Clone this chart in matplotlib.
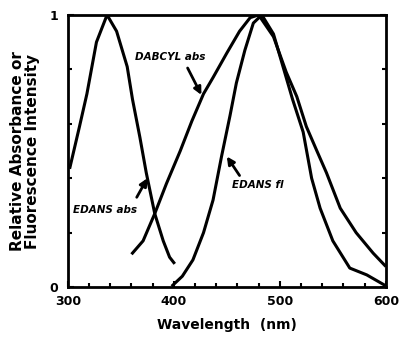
import matplotlib
matplotlib.use('Agg')
import matplotlib.pyplot as plt
from matplotlib.ticker import MultipleLocator

# EDANS absorbance
edans_abs_x = [302, 311, 318, 327, 337, 346, 356, 361, 368, 374, 382, 390, 396, 400]
edans_abs_y = [0.44, 0.59, 0.71, 0.90, 1.00, 0.94, 0.81, 0.69, 0.55, 0.42, 0.27, 0.17, 0.11, 0.09]

# DABCYL absorbance
dabcyl_x = [361, 371, 382, 393, 406, 417, 428, 437, 450, 462, 472, 480,
            494, 506, 516, 525, 535, 544, 557, 572, 588, 599]
dabcyl_y = [0.125, 0.17, 0.27, 0.38, 0.50, 0.61, 0.71, 0.77, 0.86, 0.94, 0.99, 1.00,
            0.92, 0.79, 0.70, 0.59, 0.50, 0.42, 0.29, 0.20, 0.125, 0.08]

# EDANS fluorescence
edans_fl_x = [399, 408, 418, 428, 437, 445, 453, 459, 467, 475, 483,
              494, 503, 512, 522, 530, 538, 550, 566, 582, 599]
edans_fl_y = [0.007, 0.04, 0.10, 0.20, 0.32, 0.48, 0.63, 0.75, 0.87, 0.97, 1.00,
              0.93, 0.81, 0.69, 0.57, 0.40, 0.29, 0.17, 0.07, 0.045, 0.007]

labels = ['DABCYL abs', 'EDANS abs', 'EDANS fl']
label_xy = [(363, 0.845), (305, 0.283), (455, 0.375)]
arrow_from = [(413, 0.805), (365, 0.33), (462, 0.41)]
arrow_to = [(426, 0.706), (375, 0.40), (450, 0.48)]

fig = plt.figure(figsize=(3.99, 3.39), dpi=100)
ax = fig.add_axes([0.170, 0.153, 0.797, 0.803])

lw = 2.2
ax.plot(edans_abs_x, edans_abs_y, 'k-', lw=lw)
ax.plot(dabcyl_x, dabcyl_y, 'k-', lw=lw)
ax.plot(edans_fl_x, edans_fl_y, 'k-', lw=lw)

ax.set_xlim(300, 600)
ax.set_ylim(0, 1)
ax.set_xticks([300, 400, 500, 600])
ax.set_yticks([0, 1])
ax.xaxis.set_minor_locator(MultipleLocator(20))
ax.yaxis.set_minor_locator(MultipleLocator(0.2))
ax.tick_params(which='both', direction='in', width=1.5, labelsize=9)
ax.tick_params(which='major', length=4)
ax.tick_params(which='minor', length=3)
ax.tick_params(axis='y', which='both', right=True, pad=7)
ax.tick_params(axis='x', pad=6)
for lab in ax.get_xticklabels() + ax.get_yticklabels():
    lab.set_fontweight('heavy')
for s in ax.spines.values():
    s.set_linewidth(2.0)

ax.set_xlabel('Wavelength  (nm)', fontsize=10, fontweight='heavy', labelpad=7)
ax.set_ylabel('Relative Absorbance or\nFluorescence Intensity', fontsize=11,
              fontweight='heavy', linespacing=1.0, labelpad=7)

for txt, (tx, ty), a0, a1 in zip(labels, label_xy, arrow_from, arrow_to):
    ax.text(tx, ty, txt, fontsize=7.5, fontweight='bold', fontstyle='italic',
            va='center', ha='left')
    ax.annotate('', xy=a1, xytext=a0,
                arrowprops=dict(arrowstyle='-|>', color='k', lw=2.0,
                                mutation_scale=11, shrinkA=0, shrinkB=0))

fig.savefig('out.png', dpi=100)
